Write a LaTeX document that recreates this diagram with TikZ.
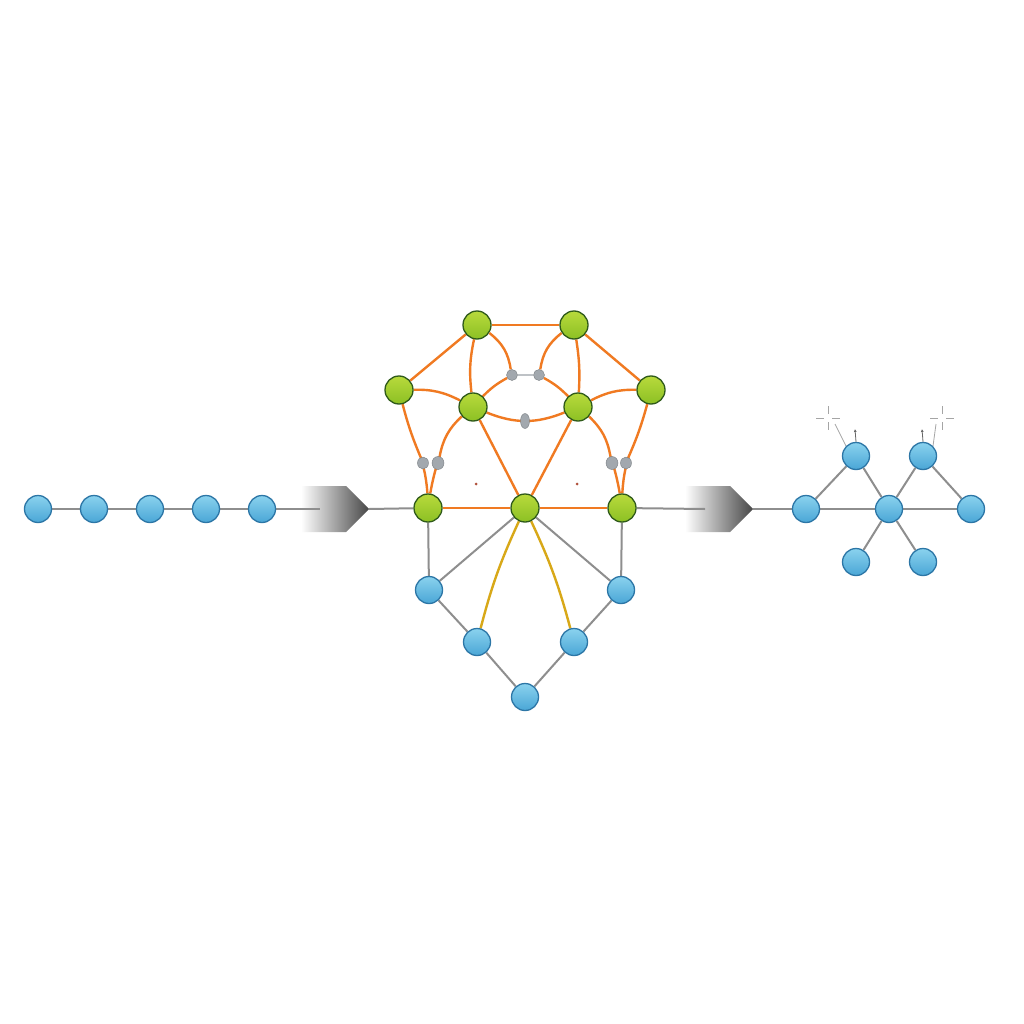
\documentclass[tikz,border=0pt]{standalone}
\usetikzlibrary{arrows.meta,shapes.geometric,backgrounds}
\definecolor{og}{HTML}{F07A22}
\definecolor{yl}{HTML}{D8A818}
\definecolor{eg}{HTML}{8E8E8E}
\definecolor{bl1}{HTML}{8AD2EE}
\definecolor{bl2}{HTML}{4AA6D6}
\definecolor{bb}{HTML}{2C76A6}
\definecolor{gr1}{HTML}{B8DA3C}
\definecolor{gr2}{HTML}{8CC024}
\definecolor{gb}{HTML}{2F5A1A}
\definecolor{dg}{HTML}{A2A8AE}
\definecolor{rd}{HTML}{B0503A}
\begin{document}
\begin{tikzpicture}[x=1pt,y=-1pt,
  bnode/.style={circle,draw=bb,line width=1.3pt,minimum size=27pt,inner sep=0pt,top color=bl1,bottom color=bl2},
  gnode/.style={circle,draw=gb,line width=1.3pt,minimum size=28pt,inner sep=0pt,top color=gr1,bottom color=gr2},
  sdot/.style={ellipse,fill=dg,draw=dg!75!black,line width=0.4pt,minimum width=11pt,minimum height=11pt,inner sep=0pt},
  rdot/.style={circle,fill=rd,minimum size=3pt,inner sep=0pt},
  gedge/.style={draw=eg,line width=2pt},
  oedge/.style={draw=og,line width=2.4pt},
  yedge/.style={draw=yl,line width=2.4pt},
  thin/.style={draw=eg!80,line width=0.8pt},
  shadearrow/.style={left color=white,right color=black!72}
]
% left chain
\node[bnode] (c1) at (38,509) {};
\node[bnode] (c2) at (94,509) {};
\node[bnode] (c3) at (150,509) {};
\node[bnode] (c4) at (206,509) {};
\node[bnode] (c5) at (262,509) {};
\coordinate (a1in) at (320,509);
\coordinate (a1tip) at (369,509);
% green nodes
\node[gnode] (g1) at (477,325) {};
\node[gnode] (g2) at (574,325) {};
\node[gnode] (g3) at (399,390) {};
\node[gnode] (g4) at (651,390) {};
\node[gnode] (g5) at (473,407) {};
\node[gnode] (g6) at (578,407) {};
\node[gnode] (g7) at (428,508) {};
\node[gnode] (g8) at (525,508) {};
\node[gnode] (g9) at (622,508) {};
% small grey dots
\node[sdot] (d1) at (512,375) {};
\node[sdot] (d2) at (539,375) {};
\node[sdot,minimum width=9pt,minimum height=15pt] (d3) at (525,421) {};
\node[sdot,minimum height=12pt] (d4) at (423,463) {};
\node[sdot,minimum width=12pt,minimum height=13pt] (d5) at (438,463) {};
\node[sdot,minimum width=12pt,minimum height=13pt] (d6) at (612,463) {};
\node[sdot,minimum height=12pt] (d7) at (626,463) {};
\node[rdot] (r1) at (476,484) {};
\node[rdot] (r2) at (577,484) {};
% lower blue
\node[bnode] (b1) at (429,590) {};
\node[bnode] (b2) at (621,590) {};
\node[bnode] (b3) at (477,642) {};
\node[bnode] (b4) at (574,642) {};
\node[bnode] (b5) at (525,697) {};
\coordinate (a2in) at (705,509);
\coordinate (a2tip) at (753,509);
% right graph
\node[bnode] (q1) at (806,509) {};
\node[bnode] (q2) at (856,456) {};
\node[bnode] (q3) at (923,456) {};
\node[bnode] (q4) at (889,509) {};
\node[bnode] (q5) at (971,509) {};
\node[bnode] (q6) at (856,562) {};
\node[bnode] (q7) at (923,562) {};
\coordinate (s1) at (828,418);
\coordinate (s2) at (942,418);
\coordinate (t1) at (855,429);
\coordinate (t2) at (922,429);

\begin{scope}[on background layer]
  \fill[white] (0,0) rectangle (1024,1024);
  % arrows
  \path[shadearrow] (301,486) -- (346,486) -- (a1tip) -- (346,532) -- (301,532) -- cycle;
  \path[shadearrow] (685,486) -- (730,486) -- (a2tip) -- (730,532) -- (685,532) -- cycle;
  % left chain
  \draw[gedge] (c1) -- (c2) -- (c3) -- (c4) -- (c5) -- (a1in);
  \draw[gedge] (a1tip) -- (g7);
  \draw[gedge] (g9) -- (a2in);
  \draw[gedge] (a2tip) -- (q1);
  % orange network
  \draw[oedge] (g1) -- (g2);
  \draw[oedge] (g1) -- (g3);
  \draw[oedge] (g2) -- (g4);
  \draw[oedge] (g1) to[bend right=9] (g5);
  \draw[oedge] (g2) to[bend left=6] (g6);
  \draw[oedge] (g1) to[bend left=22] (d1);
  \draw[oedge] (g2) to[bend right=22] (d2);
  \draw[draw=dg!70,line width=1.2pt] (d1) -- (d2);
  \draw[oedge] (g5) to[bend left=8] (d1);
  \draw[oedge] (g6) to[bend right=8] (d2);
  \draw[oedge] (g3) to[bend left=14] (g5);
  \draw[oedge] (g4) to[bend right=14] (g6);
  \draw[oedge] (g5) to[bend right=22] (g6);
  \draw[oedge] (g5) -- (g8);
  \draw[oedge] (g6) -- (g8);
  \draw[oedge] (g3) to[bend right=4] (d4) to[bend left=6] (g7);
  \draw[oedge] (g5) to[bend right=18] (d5) to[bend right=4] (g7);
  \draw[oedge] (g4) to[bend left=4] (d7) to[bend right=6] (g9);
  \draw[oedge] (g6) to[bend left=18] (d6) to[bend left=4] (g9);
  \draw[oedge] (g7) -- (g8) -- (g9);
  % lower grey
  \draw[gedge] (g7) -- (b1);
  \draw[gedge] (g8) -- (b1);
  \draw[gedge] (g8) -- (b2);
  \draw[gedge] (g9) -- (b2);
  \draw[gedge] (b1) -- (b3) -- (b5);
  \draw[gedge] (b2) -- (b4) -- (b5);
  \draw[yedge] (g8) to[bend right=5] (b3);
  \draw[yedge] (g8) to[bend left=5] (b4);
  % right graph
  \draw[gedge] (q1) -- (q2) -- (q4);
  \draw[gedge] (q1) -- (q4) -- (q5);
  \draw[gedge] (q3) -- (q4);
  \draw[gedge] (q3) -- (q5);
  \draw[gedge] (q4) -- (q6);
  \draw[gedge] (q4) -- (q7);
  % sparkles
  \draw[thin] (s1) ++(-12,0) -- ++(8,0) ++(8,0) -- ++(8,0);
  \draw[thin] (s1) ++(0,-12) -- ++(0,8) ++(0,8) -- ++(0,8);
  \draw[thin] (s2) ++(-12,0) -- ++(8,0) ++(8,0) -- ++(8,0);
  \draw[thin] (s2) ++(0,-12) -- ++(0,8) ++(0,8) -- ++(0,8);
  \draw[thin] ([shift={(7,6)}]s1) -- (q2.north west);
  \draw[thin] ([shift={(-6,6)}]s2) -- (q3.north east);
  \draw[draw=gray!80!black,line width=0.8pt,-{Latex[length=3pt,width=3pt]}] (q2.north) -- (t1);
  \draw[draw=gray!80!black,line width=0.8pt,-{Latex[length=3pt,width=3pt]}] (q3.north) -- (t2);
\end{scope}
\useasboundingbox (0,0) rectangle (1024,1024);
\end{tikzpicture}
\end{document}
